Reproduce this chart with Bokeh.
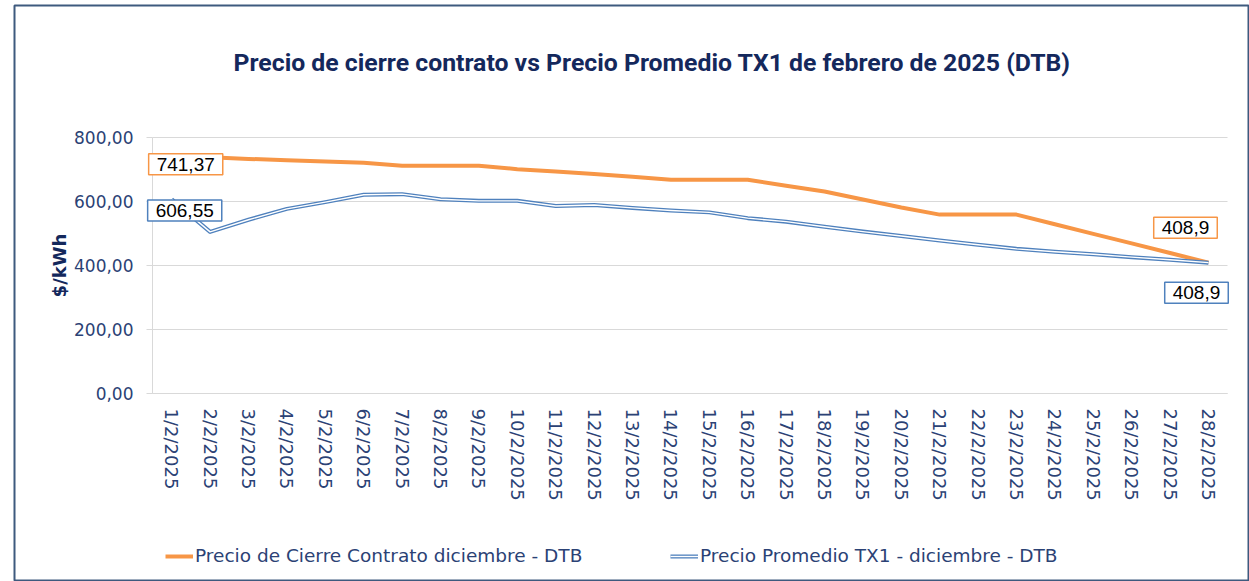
from bokeh.plotting import figure
from bokeh.models import (ColumnDataSource, Label, Legend, LegendItem,
                          CustomJSTickFormatter, FixedTicker, Range1d)
from bokeh.embed import file_html
from bokeh.resources import INLINE

# ---------------- data ----------------
dates = ["1/2/2025", "2/2/2025", "3/2/2025", "4/2/2025", "5/2/2025", "6/2/2025", "7/2/2025",
         "8/2/2025", "9/2/2025", "10/2/2025", "11/2/2025", "12/2/2025", "13/2/2025", "14/2/2025",
         "15/2/2025", "16/2/2025", "17/2/2025", "18/2/2025", "19/2/2025", "20/2/2025", "21/2/2025",
         "22/2/2025", "23/2/2025", "24/2/2025", "25/2/2025", "26/2/2025", "27/2/2025", "28/2/2025"]
cierre = [741.37, 738, 733, 729, 725, 721, 712, 712, 712, 701, 694, 686, 677, 668,
          668, 668, 649, 631, 606, 581, 559, 559, 559, 529, 499, 469, 439, 408.9]
promedio = [606.55, 505, 543, 577, 598, 621, 623, 607, 602, 602, 586, 589, 580, 572,
            566, 548, 537, 521, 506, 492, 478, 465, 452, 443, 435, 426, 418, 408.9]
y_ticks = [0, 200, 400, 600, 800]
series_names = ["Precio de Cierre Contrato diciembre - DTB",
                "Precio Promedio TX1 - diciembre - DTB"]
title_text = "Precio de cierre contrato vs Precio Promedio TX1 de febrero de 2025 (DTB)"
y_title = "$/kWh"

# ---------------- style ----------------
ORANGE = "#F79646"
BLUE = "#4F81BD"
NAVY = "#14285C"
AXIS_TXT = "#2B4275"
GRID = "#D9D9D9"
FRAME = "#3E5A7E"
FONT = "DejaVu Sans"


def fmt(v):
    if v in (cierre[-1], promedio[-1]):
        return ("%g" % v).replace(".", ",")
    return ("%.2f" % v).replace(".", ",")


idx = list(range(len(dates)))          # category positions
n = len(dates)
src = ColumnDataSource(dict(x=idx, date=dates, cierre=cierre, promedio=promedio))

W, H = 1249, 581
p = figure(x_range=Range1d(-4.094, 28.068), y_range=Range1d(-584.4, 1212.5),
           width=W, height=H, output_backend="svg", toolbar_location=None, title=None,
           min_border_left=14, min_border_right=0, min_border_top=5, min_border_bottom=1)
p.outline_line_color = FRAME
p.outline_line_width = 2
p.background_fill_color = "white"
p.border_fill_color = "white"

# grid (horizontal only, limited to the plotting area)
p.xgrid.grid_line_color = None
p.ygrid.ticker = FixedTicker(ticks=y_ticks)
p.ygrid.grid_line_color = GRID
p.ygrid.grid_line_width = 1
try:
    p.ygrid.cross_bounds = (-0.5, n - 0.5)
except Exception:
    p.ygrid.grid_line_color = None
    p.segment(x0=[-0.5] * len(y_ticks), x1=[n - 0.5] * len(y_ticks), y0=y_ticks, y1=y_ticks,
              line_color=GRID, line_width=1)

# y axis (fixed at left edge of first category)
p.yaxis.fixed_location = -0.5
p.yaxis.bounds = (y_ticks[0], y_ticks[-1])
p.yaxis.ticker = FixedTicker(ticks=y_ticks)
p.yaxis.formatter = CustomJSTickFormatter(code="return tick.toFixed(2).replace('.', ',');")
p.yaxis.axis_line_color = GRID
p.yaxis.major_tick_line_color = GRID
p.yaxis.major_tick_out = 6
p.yaxis.major_tick_in = 0
p.yaxis.minor_tick_line_color = None
p.yaxis.major_label_standoff = 13
p.yaxis.major_label_text_font = FONT
p.yaxis.major_label_text_font_size = "17px"
p.yaxis.major_label_text_color = AXIS_TXT
p.yaxis.axis_label = y_title
p.yaxis.axis_label_text_font = FONT
p.yaxis.axis_label_text_font_style = "bold"
p.yaxis.axis_label_text_font_size = "18px"
p.yaxis.axis_label_text_color = NAVY
p.yaxis.axis_label_standoff = 1

# x axis (fixed at y = 0)
p.xaxis.fixed_location = 0
p.xaxis.bounds = (-0.5, n - 0.5)
p.xaxis.ticker = FixedTicker(ticks=idx)
p.xaxis.major_label_overrides = {i: d for i, d in zip(idx, dates)}
p.xaxis.axis_line_color = GRID
p.xaxis.major_tick_line_color = None
p.xaxis.major_tick_out = 0
p.xaxis.major_tick_in = 0
p.xaxis.minor_tick_line_color = None
p.xaxis.major_label_orientation = "vertical"
p.xaxis.major_label_standoff = 15
p.xaxis.major_label_text_font = FONT
p.xaxis.major_label_text_font_size = "18px"
p.xaxis.major_label_text_color = AXIS_TXT

# lines
r1 = p.line("x", "cierre", source=src, line_color=ORANGE, line_width=4, line_join="round")
r2 = p.line("x", "promedio", source=src, line_color=BLUE, line_width=4, line_join="round")
r3 = p.line("x", "promedio", source=src, line_color="white", line_width=1.4, line_join="round")

# legend at the bottom of the chart area
leg = Legend(items=[LegendItem(label=series_names[0], renderers=[r1]),
                    LegendItem(label=series_names[1], renderers=[r2, r3])],
             orientation="horizontal", location=(151, 14), padding=0, margin=0, spacing=0,
             border_line_color=None, background_fill_alpha=0,
             label_text_font=FONT, label_text_font_size="18.5px",
             label_text_color=AXIS_TXT, label_standoff=2, glyph_height=20, glyph_width=28,
             label_width=475)
p.add_layout(leg)

# data labels
lab_common = dict(text_font="Liberation Sans", text_font_size="19px",
                  text_color="black", text_align="center", text_baseline="middle",
                  background_fill_color="white", border_line_width=1.5, padding=(8, 4))
p.add_layout(Label(x=idx[0], y=cierre[0], text=fmt(cierre[0]), x_offset=14, y_offset=-8,
                   border_line_color=ORANGE, **lab_common))
p.add_layout(Label(x=idx[0], y=promedio[0], text=fmt(promedio[0]), x_offset=13, y_offset=-11,
                   border_line_color=BLUE, **lab_common))
p.add_layout(Label(x=idx[-1], y=cierre[-1], text=fmt(cierre[-1]), x_offset=-23, y_offset=35,
                   border_line_color=ORANGE, **lab_common))
p.add_layout(Label(x=idx[-1], y=promedio[-1], text=fmt(promedio[-1]), x_offset=-12, y_offset=-30,
                   border_line_color=BLUE, **lab_common))

# title
p.add_layout(Label(x=12.51, y=1034, text=title_text, text_font="Roboto",
                   text_font_style="bold", text_font_size="24.8px", text_color=NAVY,
                   text_align="center", text_baseline="middle"))

open("out.html", "w").write(file_html(p, INLINE))
